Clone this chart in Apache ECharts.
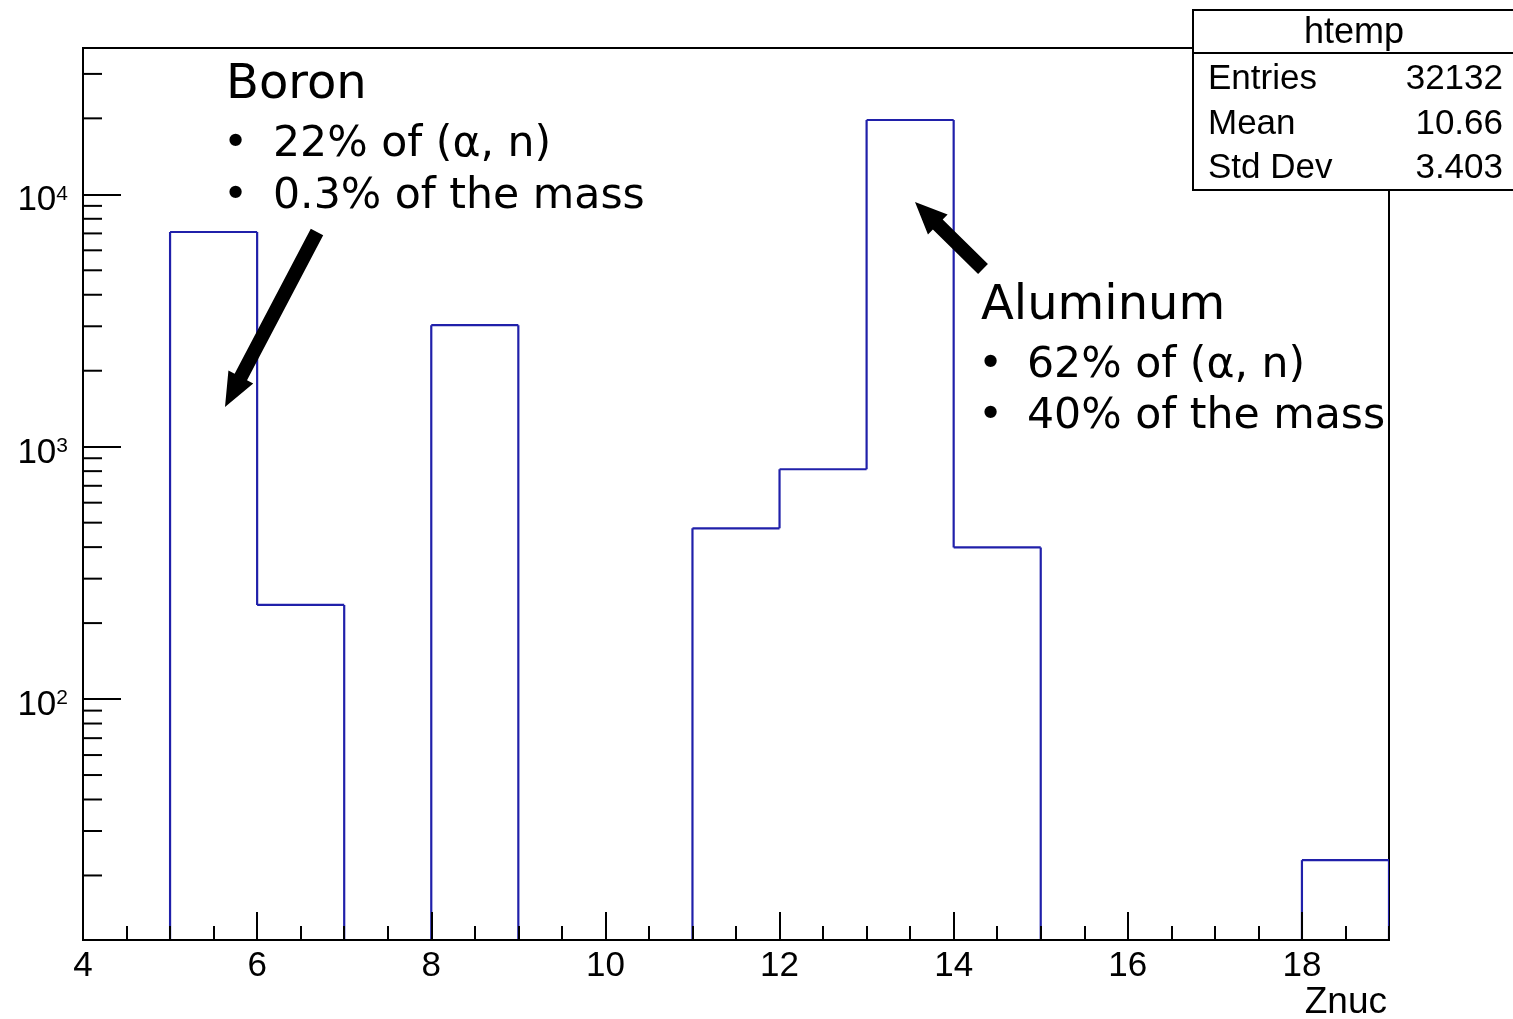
<!DOCTYPE html>
<html><head><meta charset="utf-8">
<script src="https://cdn.jsdelivr.net/npm/echarts@6/dist/echarts.min.js"></script>
<style>html,body{margin:0;padding:0;background:#fff}#c{width:1513px;height:1019px}</style>
</head><body><div id="c"></div>
<script>
// ---- data ----
const binLow = [4, 5, 6, 7, 8, 9, 10, 11, 12, 13, 14, 15, 16, 17, 18];
const binWidth = 1;
const binCounts = [0, 7090, 236, 0, 3030, 0, 0, 475, 814, 19700, 399, 0, 0, 0, 23];
const xTickLabels = ['4', '6', '8', '10', '12', '14', '16', '18'];
const yMinorTicks = [20, 30, 40, 50, 60, 70, 80, 90,
                     200, 300, 400, 500, 600, 700, 800, 900,
                     2000, 3000, 4000, 5000, 6000, 7000, 8000, 9000,
                     20000, 30000];
const X_MIN = 4, X_MAX = 19, Y_MIN = 11.1, Y_MAX = 38000;
const xAxisTitle = 'Znuc';
const statsTitle = 'htemp';
const statsLabels = ['Entries', 'Mean', 'Std Dev'];
const statsValues = ['32132', '10.66', '3.403'];
const boronLines = ['Boron', '22% of (\u03b1, n)', '0.3% of the mass'];
const aluminumLines = ['Aluminum', '62% of (\u03b1, n)', '40% of the mass'];

// ---- styling ----
const ROOT_FONT = '"Liberation Sans", Arial, sans-serif';
const NOTE_FONT = '"DejaVu Sans", sans-serif';
const HIST_COLOR = '#2020aa';

const histData = binLow.map((lo, i) => [lo, lo + binWidth, binCounts[i], i > 0 ? binCounts[i - 1] : 0, i === binLow.length - 1 ? 1 : 0]);

function arrowPoly(tail, tip, sw, hw, hl) {
  const dx = tip[0] - tail[0], dy = tip[1] - tail[1];
  const L = Math.hypot(dx, dy), ux = dx / L, uy = dy / L, nx = -uy, ny = ux;
  const bx = tip[0] - ux * hl, by = tip[1] - uy * hl;
  return [
    [tail[0] + nx * sw / 2, tail[1] + ny * sw / 2],
    [bx + nx * sw / 2, by + ny * sw / 2],
    [bx + nx * hw / 2, by + ny * hw / 2],
    tip,
    [bx - nx * hw / 2, by - ny * hw / 2],
    [bx - nx * sw / 2, by - ny * sw / 2],
    [tail[0] - nx * sw / 2, tail[1] - ny * sw / 2]
  ];
}

function noteBlock(lines, x, bulletX, textX, ys, titleSize, lineSize) {
  const els = [];
  els.push({type: 'text', x: x, y: ys[0], z: 100,
    style: {text: lines[0], font: titleSize + 'px ' + NOTE_FONT, fill: '#000', verticalAlign: 'middle', textVerticalAlign: 'middle'}});
  for (let i = 1; i < lines.length; i++) {
    els.push({type: 'text', x: bulletX, y: ys[i], z: 100,
      style: {text: '\u2022', font: lineSize + 'px ' + NOTE_FONT, fill: '#000', verticalAlign: 'middle', textVerticalAlign: 'middle'}});
    els.push({type: 'text', x: textX, y: ys[i], z: 100,
      style: {text: lines[i], font: lineSize + 'px ' + NOTE_FONT, fill: '#000', verticalAlign: 'middle', textVerticalAlign: 'middle'}});
  }
  return els;
}

const STATS_FONT = '35px ' + ROOT_FONT;
const statsEls = [
  {type: 'rect', z: 100, shape: {x: 1193, y: 10, width: 340, height: 180}, style: {fill: '#fff', stroke: '#000', lineWidth: 2}},
  {type: 'line', z: 101, shape: {x1: 1193, y1: 53, x2: 1513, y2: 53}, style: {stroke: '#000', lineWidth: 2}},
  {type: 'text', z: 101, x: 1354, y: 33, style: {text: statsTitle, font: '36px ' + ROOT_FONT, fill: '#000', align: 'center', textAlign: 'center', verticalAlign: 'middle', textVerticalAlign: 'middle'}}
];
const statsY = [79, 124, 168];
statsLabels.forEach((lab, i) => {
  statsEls.push({type: 'text', z: 101, x: 1208, y: statsY[i], style: {text: lab, font: STATS_FONT, fill: '#000', align: 'left', textAlign: 'left', verticalAlign: 'middle', textVerticalAlign: 'middle'}});
  statsEls.push({type: 'text', z: 101, x: 1503, y: statsY[i], style: {text: statsValues[i], font: STATS_FONT, fill: '#000', align: 'right', textAlign: 'right', verticalAlign: 'middle', textVerticalAlign: 'middle'}});
});

const arrows = [
  {type: 'polygon', z: 100, shape: {points: arrowPoly([317, 232], [225, 407], 14, 28, 34)}, style: {fill: '#000'}},
  {type: 'polygon', z: 100, shape: {points: arrowPoly([983, 269], [915, 202], 14, 28, 32)}, style: {fill: '#000'}}
];

const chart = echarts.init(document.getElementById('c'), null, {renderer: 'canvas'});
chart.setOption({
  animation: false,
  backgroundColor: '#fff',
  grid: {left: 83, right: 124, top: 48, bottom: 79, show: true, borderColor: '#000', borderWidth: 2,
         backgroundColor: 'transparent', containLabel: false, outerBoundsMode: 'none'},
  xAxis: [
    {
      type: 'value', min: X_MIN, max: X_MAX, interval: 2, position: 'bottom', z: 5,
      axisLine: {show: true, onZero: false, lineStyle: {color: '#000', width: 2}},
      axisTick: {show: true, inside: true, length: 28, lineStyle: {color: '#000', width: 2}},
      axisLabel: {show: true, margin: 9, fontSize: 35, fontFamily: ROOT_FONT, color: '#000',
        showMaxLabel: false,
        formatter: v => xTickLabels.indexOf(String(v)) >= 0 ? String(v) : ''},
      splitLine: {show: false},
      name: xAxisTitle, nameLocation: 'end', nameGap: -2,
      nameTextStyle: {fontSize: 37, fontFamily: ROOT_FONT, color: '#000', align: 'right', verticalAlign: 'top',
                      padding: [44, 0, 0, 0]}
    },
    {
      type: 'value', min: X_MIN, max: X_MAX, interval: 0.5, position: 'bottom', z: 5,
      axisLine: {show: false, onZero: false},
      axisTick: {show: true, inside: true, length: 14, lineStyle: {color: '#000', width: 2}},
      axisLabel: {show: false},
      splitLine: {show: false}
    }
  ],
  yAxis: {
    type: 'log', logBase: 10, min: Y_MIN, max: Y_MAX, z: 5,
    axisLine: {show: true, onZero: false, lineStyle: {color: '#000', width: 2}},
    axisTick: {show: true, inside: true, length: 38, lineStyle: {color: '#000', width: 2}},
    splitLine: {show: false},
    minorTick: {show: false},
    axisLabel: {
      show: true, margin: 15, padding: [12, 0, 0, 0], color: '#000',
      formatter: v => {
        const e = Math.log10(v);
        if (Math.abs(e - Math.round(e)) > 1e-6) return '';
        return '{b|10}{s|' + Math.round(e) + '}';
      },
      rich: {
        b: {fontSize: 35, fontFamily: ROOT_FONT, color: '#000', lineHeight: 34, verticalAlign: 'top'},
        s: {fontSize: 21, fontFamily: ROOT_FONT, color: '#000', lineHeight: 12, verticalAlign: 'top'}
      }
    }
  },
  series: [
    {
      type: 'custom', name: 'htemp', xAxisIndex: 0, yAxisIndex: 0, clip: true, z: 2,
      data: histData,
      renderItem: (params, api) => {
        const lo = api.value(0), hi = api.value(1), c = api.value(2), p = api.value(3), last = api.value(4);
        const bottom = api.coord([lo, Y_MIN])[1];
        const yOf = v => v > 0 ? api.coord([lo, v])[1] : bottom;
        const xl = api.coord([lo, Y_MIN])[0], xh = api.coord([hi, Y_MIN])[0];
        const st = {stroke: HIST_COLOR, lineWidth: 2.2, fill: null};
        const ch = [];
        if (c !== p) ch.push({type: 'line', shape: {x1: xl, y1: yOf(p), x2: xl, y2: yOf(c)}, style: st});
        if (c > 0) ch.push({type: 'line', shape: {x1: xl, y1: yOf(c), x2: xh, y2: yOf(c)}, style: st});
        if (last && c > 0) ch.push({type: 'line', shape: {x1: xh, y1: yOf(c), x2: xh, y2: bottom}, style: st});
        return {type: 'group', children: ch};
      }
    },
    {
      type: 'custom', name: 'yMinorTicks', xAxisIndex: 0, yAxisIndex: 0, clip: false, z: 6, silent: true,
      data: yMinorTicks.map(v => [X_MIN, v]),
      renderItem: (params, api) => {
        const pt = api.coord([api.value(0), api.value(1)]);
        return {type: 'line', shape: {x1: pt[0], y1: pt[1], x2: pt[0] + 19, y2: pt[1]}, style: {stroke: '#000', lineWidth: 2}};
      }
    }
  ],
  graphic: [].concat(
    arrows,
    noteBlock(boronLines, 226, 223, 273, [86, 145, 197], 48, 42.6),
    noteBlock(aluminumLines, 981, 978, 1027, [307, 366, 417], 48, 42.6),
    statsEls
  )
});
</script></body></html>
